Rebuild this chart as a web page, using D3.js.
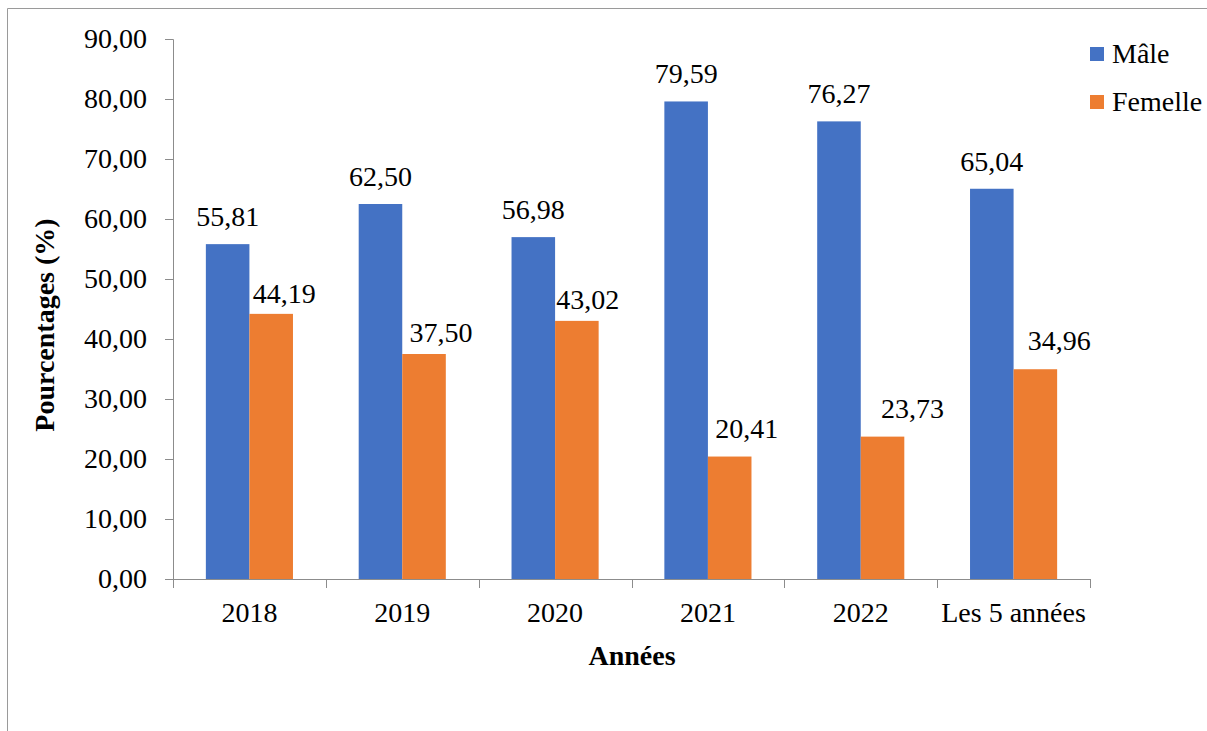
<!DOCTYPE html>
<html lang="fr">
<head>
<meta charset="utf-8">
<script src="https://cdn.jsdelivr.net/npm/d3@7"></script>
<style>
  html, body { margin: 0; padding: 0; background: #fff; }
  svg { display: block; }
  svg text { font-family: "Liberation Serif", Tinos, "Times New Roman", Times, "DejaVu Serif", "Noto Serif", serif !important; fill: #000; }
</style>
</head>
<body>
<svg id="chart" width="1207" height="731" font-family="Liberation Serif, serif"></svg>
<script>
// Répartition par sexe, en pourcentage, selon l'année
const categories = ["2018", "2019", "2020", "2021", "2022", "Les 5 années"];
const seriesNames = ["Mâle", "Femelle"];
const male = [55.81, 62.50, 56.98, 79.59, 76.27, 65.04];
const female = [44.19, 37.50, 43.02, 20.41, 23.73, 34.96];
const yTicks = [0, 10, 20, 30, 40, 50, 60, 70, 80, 90];

const colors = { "Mâle": "#4472C4", "Femelle": "#ED7D31" };
const axisColor = "#8c8c8c";
const serif = "'Liberation Serif', Tinos, 'Times New Roman', Times, 'DejaVu Serif', serif";
const fmt = v => v.toFixed(2).replace(".", ",");

const svg = d3.select("#chart");
const W = 1207, H = 731;

// cadre du graphique
svg.append("path")
  .attr("d", `M7.5,${H} V8.5 H${W}`)
  .attr("fill", "none")
  .attr("stroke", "#9a9a9a")
  .attr("stroke-width", 1);

const plot = { left: 173, right: 1090, top: 39, bottom: 579 };

const x = d3.scaleBand()
  .domain(categories)
  .range([plot.left, plot.right])
  .paddingInner(0.43)
  .paddingOuter(0.215);

const inner = d3.scaleBand()
  .domain(seriesNames)
  .range([0, x.bandwidth()]);

const y = d3.scaleLinear()
  .domain([0, 90])
  .range([plot.bottom, plot.top]);

const rows = categories.map((c, i) => ({ cat: c, values: [
  { name: "Mâle", v: male[i], i },
  { name: "Femelle", v: female[i], i }
]}));

// barres
const groups = svg.append("g").selectAll("g")
  .data(rows)
  .join("g")
  .attr("transform", d => `translate(${x(d.cat)},0)`);

groups.selectAll("rect")
  .data(d => d.values)
  .join("rect")
  .attr("x", d => inner(d.name))
  .attr("y", d => y(d.v))
  .attr("width", inner.bandwidth())
  .attr("height", d => y(0) - y(d.v))
  .attr("fill", d => colors[d.name]);

// axe des ordonnées
const yAxis = d3.axisLeft(y)
  .tickValues(yTicks)
  .tickSize(8)
  .tickPadding(18)
  .tickFormat(fmt);

const gy = svg.append("g")
  .attr("transform", `translate(${plot.left},0)`)
  .call(yAxis)
  .attr("font-family", serif);
gy.select(".domain").attr("stroke", axisColor).attr("d", `M-8,${plot.top + 0.5}H0.5V${plot.bottom}`);
gy.selectAll(".tick line").attr("stroke", axisColor);
gy.selectAll(".tick text")
  .style("font-family", serif)
  .attr("font-size", 28)
  .attr("fill", "#000");

// axe des abscisses : graduations entre les catégories
const gx = svg.append("g").attr("transform", `translate(0,${plot.bottom})`);
gx.append("line")
  .attr("x1", plot.left).attr("x2", plot.right)
  .attr("y1", 0.5).attr("y2", 0.5)
  .attr("stroke", axisColor);
const boundaries = d3.range(categories.length + 1).map(k => plot.left + k * (plot.right - plot.left) / categories.length);
gx.selectAll(".sep")
  .data(boundaries)
  .join("line")
  .attr("class", "sep")
  .attr("x1", d => Math.round(d) + 0.5).attr("x2", d => Math.round(d) + 0.5)
  .attr("y1", 0).attr("y2", 9)
  .attr("stroke", axisColor);
gx.selectAll(".lab")
  .data(categories)
  .join("text")
  .attr("class", "lab")
  .attr("x", d => x(d) + x.bandwidth() / 2)
  .attr("y", 43)
  .attr("text-anchor", "middle")
  .attr("font-size", 28)
  .style("font-family", serif)
  .text(d => d);

// étiquettes de valeurs
const femaleNudge = [[13, 11], [17, 12], [11, 12], [17, 19], [30, 19], [24, 19]];
groups.selectAll("text.val")
  .data(d => d.values)
  .join("text")
  .attr("class", "val")
  .attr("x", d => inner(d.name) + inner.bandwidth() / 2 + (d.name === "Femelle" ? femaleNudge[d.i][0] : 0))
  .attr("y", d => y(d.v) - (d.name === "Femelle" ? femaleNudge[d.i][1] : 18))
  .attr("text-anchor", "middle")
  .attr("font-size", 28)
  .style("font-family", serif)
  .text(d => fmt(d.v));

// titres des axes
svg.append("text")
  .attr("transform", `translate(54,325) rotate(-90)`)
  .attr("text-anchor", "middle")
  .attr("font-weight", "bold")
  .attr("font-size", 28)
  .style("font-family", serif)
  .text("Pourcentages (%)");

svg.append("text")
  .attr("x", 632)
  .attr("y", 665)
  .attr("text-anchor", "middle")
  .attr("font-weight", "bold")
  .attr("font-size", 28)
  .style("font-family", serif)
  .text("Années");

// légende
const legend = svg.append("g").selectAll("g")
  .data(seriesNames)
  .join("g")
  .attr("transform", (d, i) => `translate(1090,${47 + i * 48})`);
legend.append("rect")
  .attr("width", 14).attr("height", 14)
  .attr("fill", d => colors[d]);
legend.append("text")
  .attr("x", 22).attr("y", 16)
  .attr("font-size", 28)
  .style("font-family", serif)
  .text(d => d);
</script>
</body>
</html>
